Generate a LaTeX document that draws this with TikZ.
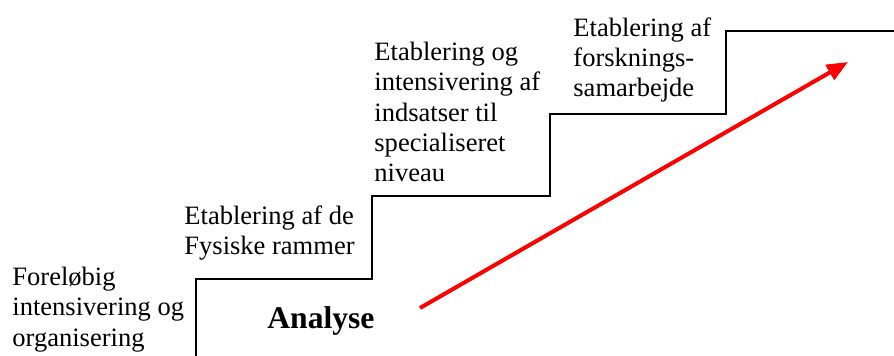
\documentclass[tikz,border=0pt]{standalone}
\usepackage{fontspec}
\setmainfont{Liberation Serif}
\usetikzlibrary{arrows.meta}
\begin{document}
\begin{tikzpicture}[x=0.475pt,y=-0.475pt,
        trin/.style={anchor=north west,inner sep=0pt,align=left,font=\fontsize{12.6}{14.3}\selectfont},
        pil/.style={red,line width=1.9pt,-{Triangle[length=10pt,width=8pt]}}]
        \useasboundingbox (0,0) rectangle (894,356);
        \draw[line width=1pt] (196,356) -- (196,279) -- (372,279) -- (372,196) -- (550,196) -- (550,114) -- (726,114) -- (726,31) -- (894,31);
        \node[trin] (foreloebig) at (12,267) {Foreløbig\\intensivering og\\organisering};
        \node[trin] (fysiske) at (184,205) {Etablering af de\\Fysiske rammer};
        \node[trin] (indsatser) at (374,42) {Etablering og\\intensivering af\\indsatser til\\specialiseret\\niveau};
        \node[trin] (forskning) at (573,17) {Etablering af\\forsknings-\\samarbejde};
        \node[anchor=base west,inner sep=0pt,font=\fontsize{15}{17}\selectfont\bfseries] (analyse) at (267,328) {Analyse};
        \coordinate (start) at (420,308);
        \coordinate (slut) at (848,62);
        \draw[pil] (start) -- (slut);
    \end{tikzpicture}
\end{document}
